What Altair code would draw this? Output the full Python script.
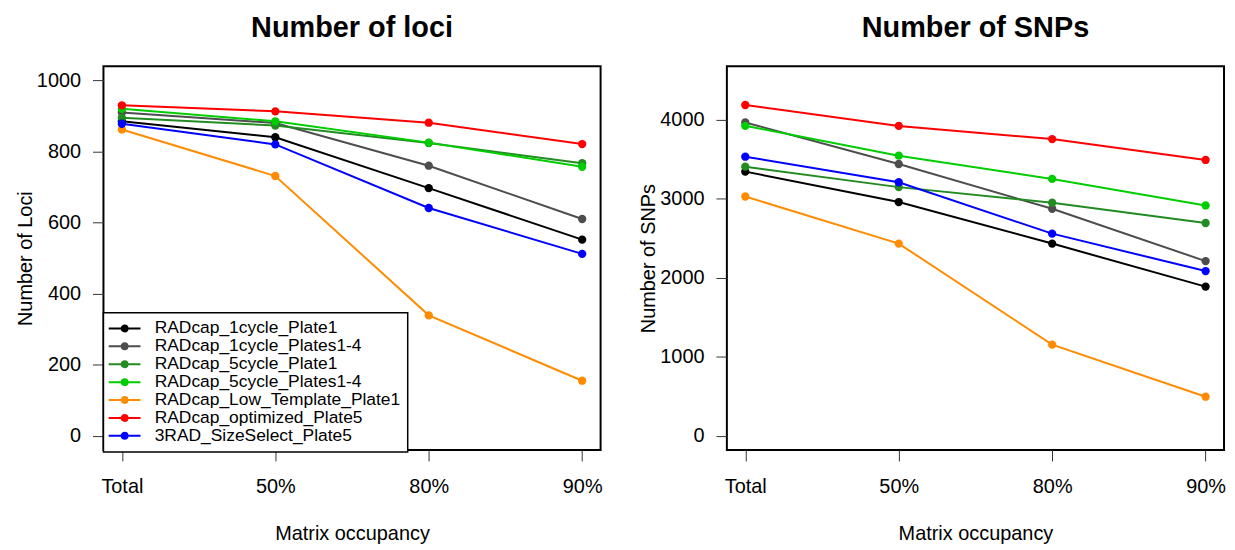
import json
import altair as alt
import pandas as pd

occupancy = ["Total", "50%", "80%", "90%"]
series = [
    "RADcap_1cycle_Plate1",
    "RADcap_1cycle_Plates1-4",
    "RADcap_5cycle_Plate1",
    "RADcap_5cycle_Plates1-4",
    "RADcap_Low_Template_Plate1",
    "RADcap_optimized_Plate5",
    "3RAD_SizeSelect_Plate5",
]
colors = ["#000000", "#4D4D4D", "#228B22", "#00CD00", "#FF8C00", "#FF0000", "#0000FF"]

# Number of loci per series (Total, 50%, 80%, 90%)
loci_1cycle_plate1 = [885, 840, 697, 552]
loci_1cycle_plates1_4 = [910, 880, 760, 610]
loci_5cycle_plate1 = [895, 873, 824, 767]
loci_5cycle_plates1_4 = [920, 885, 825, 757]
loci_low_template = [862, 731, 339, 155]
loci_optimized = [930, 913, 881, 821]
loci_3rad = [878, 820, 641, 512]

# Number of SNPs per series (Total, 50%, 80%, 90%)
snps_1cycle_plate1 = [3345, 2960, 2434, 1889]
snps_1cycle_plates1_4 = [3967, 3442, 2875, 2212]
snps_5cycle_plate1 = [3408, 3149, 2951, 2695]
snps_5cycle_plates1_4 = [3925, 3547, 3253, 2917]
snps_low_template = [3030, 2434, 1154, 495]
snps_optimized = [4189, 3924, 3757, 3493]
snps_3rad = [3534, 3211, 2560, 2086]

loci = [loci_1cycle_plate1, loci_1cycle_plates1_4, loci_5cycle_plate1,
        loci_5cycle_plates1_4, loci_low_template, loci_optimized, loci_3rad]
snps = [snps_1cycle_plate1, snps_1cycle_plates1_4, snps_5cycle_plate1,
        snps_5cycle_plates1_4, snps_low_template, snps_optimized, snps_3rad]

rows = []
for s, lv, sv in zip(series, loci, snps):
    for i, occ in enumerate(occupancy):
        rows.append({"series": s, "pos": i + 1, "occupancy": occ,
                     "loci": lv[i], "snps": sv[i]})
df = pd.DataFrame(rows)

FONT = "Liberation Sans"
label_expr = json.dumps(occupancy) + "[datum.value - 1]"

# legend symbol: a line with a dot in the middle (drawn with strokes only)
LEG_PATH = ("M-1.4,0L2.867,0"
            "M1.133,0A0.4,0.4,0,1,1,0.333,0A0.4,0.4,0,1,1,1.133,0"
            "M0.893,0A0.16,0.16,0,1,1,0.573,0A0.16,0.16,0,1,1,0.893,0")


def panel(field, title, ytitle, domain, ticks, with_legend):
    x = alt.X("pos:Q",
              scale=alt.Scale(domain=[0.88, 4.12], nice=False, zero=False),
              axis=alt.Axis(values=[1, 2, 3, 4], labelExpr=label_expr,
                            title="Matrix occupancy", labelPadding=16,
                            titlePadding=27))
    y = alt.Y(f"{field}:Q",
              scale=alt.Scale(domain=domain, nice=False, zero=False),
              axis=alt.Axis(values=ticks, title=ytitle, labelPadding=12,
                            titlePadding=1, format="d"))
    if with_legend:
        legend = alt.Legend(title=None, orient="none", legendX=0, legendY=248,
                            symbolType=LEG_PATH, symbolSize=225,
                            symbolStrokeWidth=2, labelFontSize=17.5,
                            labelOffset=27, padding=7, rowPadding=-2,
                            strokeColor="black", fillColor="white",
                            labelLimit=400, labelFont=FONT,
                            labelColor="black", symbolOpacity=1)
    else:
        legend = None
    color_line = alt.Color("series:N",
                           scale=alt.Scale(domain=series, range=colors),
                           legend=legend)
    color_pt = alt.Color("series:N",
                         scale=alt.Scale(domain=series, range=colors),
                         legend=None)
    lines = alt.Chart(df).mark_line(strokeWidth=2).encode(
        x=x, y=y, color=color_line, order="pos:Q")
    pts = alt.Chart(df).mark_point(filled=True, size=70, opacity=1).encode(
        x=x, y=y, color=color_pt)
    return alt.layer(lines, pts).properties(
        width=500, height=386,
        title=alt.TitleParams(title, anchor="middle", fontSize=29,
                              fontWeight="bold", font=FONT,
                              baseline="alphabetic", offset=0, color="black"))


left = panel("loci", "Number of loci", "Number of Loci", [-40, 1040],
             [0, 200, 400, 600, 800, 1000], True)
right = panel("snps", "Number of SNPs", "Number of SNPs", [-180, 4680],
              [0, 1000, 2000, 3000, 4000], False)

chart = alt.hconcat(left, right, spacing=34).resolve_scale(
    y="independent", color="independent"
).properties(
    padding={"left": 6, "top": 4, "right": 0, "bottom": 0},
    background="white",
).configure_axis(
    labelFont=FONT, labelFontSize=20, labelColor="black",
    titleFont=FONT, titleFontSize=20, titleFontWeight="normal",
    titleColor="black", tickColor="#333333", tickSize=11, tickWidth=1,
    domain=False, grid=False,
).configure_axisY(labelAngle=0).configure_view(
    stroke="black", strokeWidth=2
).configure_legend(strokeWidth=1.5)

chart.save("out.html", embed_options={"renderer": "svg", "actions": False})
